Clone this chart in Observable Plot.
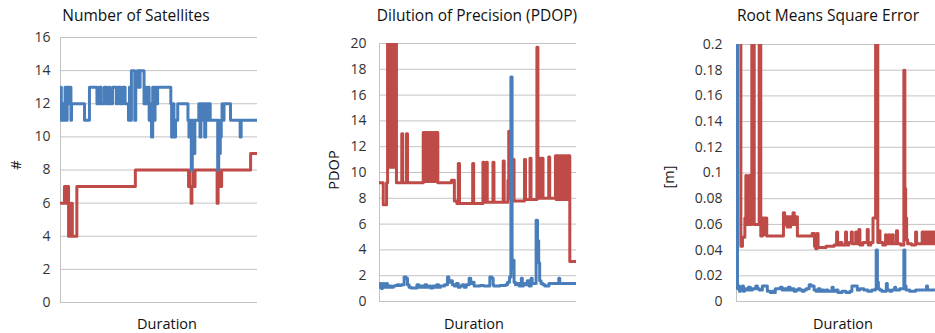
<!DOCTYPE html>
<html>
<head>
<meta charset="utf-8">
<script src="https://cdn.jsdelivr.net/npm/d3@7"></script>
<script src="https://cdn.jsdelivr.net/npm/@observablehq/plot@0.6"></script>
<style>
  html, body { margin: 0; padding: 0; background: #fff; }
  #wrap { position: relative; width: 935px; height: 333px; overflow: hidden; font-family: "Open Sans", sans-serif; }
  .panel { position: absolute; top: 0; }
  .lbl { position: absolute; transform: translate(-50%, -50%); white-space: nowrap; color: #111; }
  .title { font-size: 15.5px; }
  .axis { font-size: 14.5px; }
  .rot { transform: translate(-50%, -50%) rotate(-90deg); }
</style>
</head>
<body>
<div id="wrap"></div>
<script>
// Duration is expressed as percent of the recording (0–100); each pair is [duration, value],
// held until the next change.

// Number of satellites
const satellitesA = [[0,13],[0.4,11],[1.2,12],[1.6,11],[2.3,13],[3,11],[3.4,13],[4.3,12],[4.8,13],[5.3,11],[5.6,12],
  [12.2,11],[14.7,13],[18.5,12],[19.6,13],[20.6,12],[22.2,13],[23.4,12],[24.4,13],[25,12],[26.4,13],[28.3,12],
  [29.2,13],[30.6,12],[31.5,13],[32.8,12],[34.5,11],[35,13],[35.5,11],[36,14],[37.7,11],[38.2,13],[39,14],[40,13],
  [40.4,14],[42.4,12],[43,13],[43.6,12],[44.3,13],[45,11],[45.5,12],[46.2,10],[46.8,13],[47.4,11],[48,13],[48.6,12],
  [49.3,13],[56,12],[56.4,10],[57,12],[57.6,10],[58.4,11],[59.5,12],[64.7,11],[65.2,10],[65.7,11],[66.4,8],[66.9,11],
  [67.6,9],[68.2,11],[70.2,12],[70.8,10],[71.3,12],[72,11],[72.5,12],[73.2,10],[73.7,12],[74.5,11],[75,12],[76,11],
  [79.8,8],[80.3,11],[80.7,9],[81.1,10],[81.6,11],[82,12],[82.5,11],[83,12],[86.3,11],[91.2,10],[91.7,11],[100,11]];
const satellitesB = [[0,6],[2,7],[2.6,6],[3.2,7],[4.1,4],[5.4,6],[6,4],[8.3,7],[38,8],[65,7],[65.4,8],[65.8,7],
  [66.3,6],[66.7,7],[67.5,8],[67.9,7],[68.3,8],[79.5,6],[80,8],[81.3,7],[81.8,8],[96.5,9],[100,9]];

// Dilution of precision (values above 20 leave the chart)
const pdopA = [[0,1.1],[0.5,1.4],[1,1.0],[1.5,1.3],[2,1.4],[2.5,1.1],[3,1.3],[3.5,1.4],[4,1.1],[5,1.2],[6,1.1],
  [7,1.2],[8,1.25],[9,1.3],[10,1.25],[11,1.3],[12.5,1.9],[13.5,1.8],[14.2,1.3],[15,1.1],[16,1.05],[19,1.3],[20,1.1],
  [21,1.2],[22,1.1],[23,1.3],[24,1.1],[25,1.2],[26,1.05],[27,1.2],[28,1.1],[29,1.3],[30,1.1],[31,1.2],[33,1.3],
  [34.5,1.9],[35.2,1.5],[36,1.6],[37,1.3],[38,1.2],[39,1.4],[40,1.1],[41,1.2],[42,1.3],[43,1.1],[44,1.3],[45.5,1.8],
  [46.3,1.4],[47,1.5],[48,1.2],[51,1.25],[53,1.2],[56,1.9],[57,1.8],[57.7,1.3],[58,1.2],[61,1.25],[64,1.3],[65,1.5],
  [66,1.9],[66.7,17.4],[67.3,2.5],[67.8,3.2],[68.3,1.5],[69,1.3],[70,1.4],[71,1.2],[72,1.8],[72.5,1.2],[73,1.4],
  [74,1.3],[75,1.6],[76,1.2],[77,1.8],[77.5,1.4],[79.5,6.3],[80.2,4.7],[80.8,3.0],[81.3,1.6],[82,1.4],[83,1.3],
  [84,1.2],[86,1.4],[91,1.8],[91.5,1.4],[100,1.4]];
const pdopB = [[0,9.2],[1.9,7.5],[3.6,9.2],[4.1,24],[4.6,10.4],[5.2,24],[5.6,10.4],[6.4,24],[6.9,10.4],[7.4,24],
  [8.6,9.2],[11.3,13],[11.8,9.2],[13.7,13],[14.2,9.2],[22.2,13.1],[22.7,9.3],[23.2,13.1],[23.7,9.3],[24.2,13.1],
  [24.7,9.3],[25.2,13.1],[25.7,9.3],[26.2,13.1],[26.7,9.3],[27.2,13.1],[27.7,9.3],[28.2,13.1],[29.6,9.2],[36.5,9.4],
  [38,7.8],[39.3,7.6],[40,10.7],[40.6,7.6],[47.3,10.7],[47.8,7.6],[52.5,10.8],[53,7.7],[54.2,10.8],[54.7,7.7],
  [57.6,10.8],[58.1,7.7],[62.8,10.9],[63.3,7.7],[65.2,9.4],[65.6,13.2],[66,8],[66.4,9.4],[66.8,8],[67.3,7.8],
  [67.8,11],[68.3,7.8],[73.6,11],[74.1,7.9],[76.4,11.1],[76.9,7.9],[79.9,19.7],[80.4,8.0],[80.8,11.1],[81.3,8.0],
  [81.7,11.1],[82.2,8],[82.6,11.1],[83,8],[85.9,11.2],[86.4,8],[89.3,11.3],[89.7,7.9],[90.1,11.3],[90.5,7.9],
  [90.9,11.3],[91.3,7.9],[91.7,11.3],[92.1,7.9],[92.5,11.3],[92.9,7.9],[93.3,11.3],[93.7,7.9],[94.1,11.3],[94.5,7.9],
  [94.9,11.3],[95.3,7.9],[95.7,11.3],[96.6,3.1],[100,3.1]];

// Root mean square error [m] (values above 0.2 leave the chart)
const rmsA = [[0,0.25],[0.5,0.01],[1,0.012],[1.5,0.008],[2,0.011],[2.5,0.009],[3,0.012],[3.5,0.008],[4,0.01],
  [5,0.009],[6,0.011],[7,0.009],[8,0.01],[9.7,0.012],[10.5,0.01],[11.5,0.009],[13,0.012],[15.5,0.008],[17,0.007],
  [18,0.008],[19,0.007],[19.5,0.01],[22,0.011],[23,0.009],[24,0.01],[25,0.009],[26,0.011],[27,0.009],[28,0.01],
  [29,0.008],[30,0.009],[31,0.01],[32,0.009],[33,0.008],[34,0.009],[35,0.01],[36.5,0.013],[37.5,0.012],[39,0.009],
  [40,0.008],[41,0.01],[42,0.008],[43,0.009],[44,0.008],[45,0.009],[46,0.008],[48,0.011],[48.6,0.008],[50,0.009],
  [51,0.007],[53,0.008],[55,0.007],[57,0.008],[58,0.012],[60.7,0.009],[62,0.01],[64,0.009],[66,0.008],[68,0.009],
  [69.8,0.01],[70.2,0.04],[70.8,0.015],[71.3,0.01],[72,0.009],[73,0.008],[75.3,0.014],[75.8,0.009],[77,0.008],
  [78,0.009],[79.5,0.011],[80,0.009],[82,0.01],[84.1,0.04],[84.6,0.012],[85.2,0.009],[87,0.008],[90,0.009],
  [95.5,0.012],[96,0.009],[100,0.009]];
const rmsB = [[1.5,0.25],[2.2,0.043],[3,0.05],[4.2,0.065],[4.7,0.098],[5.2,0.06],[6.4,0.098],[7.2,0.06],[7.7,0.25],
  [8.9,0.06],[11.4,0.25],[12.2,0.051],[13,0.065],[13.5,0.052],[14,0.065],[14.5,0.052],[15,0.065],[15.2,0.051],
  [23.6,0.069],[24.2,0.06],[24.8,0.066],[25.4,0.058],[26,0.066],[26.6,0.058],[27.2,0.066],[27.8,0.06],[28.4,0.069],
  [29,0.06],[29.6,0.066],[30.6,0.051],[38,0.053],[39.2,0.043],[39.8,0.041],[40.4,0.053],[41,0.042],[45,0.043],
  [49,0.044],[50.3,0.054],[50.8,0.044],[52,0.046],[53,0.044],[54.8,0.054],[55.3,0.044],[56.5,0.046],[57.7,0.054],
  [58.2,0.045],[59.9,0.054],[60.4,0.045],[61.5,0.056],[62,0.044],[63.5,0.046],[65.7,0.056],[66.2,0.044],[67.5,0.046],
  [68.6,0.065],[69.9,0.25],[71,0.046],[71.6,0.055],[72.1,0.046],[73.5,0.044],[74.9,0.052],[75.4,0.045],[76.6,0.052],
  [77.1,0.045],[78.3,0.052],[78.8,0.045],[80.4,0.055],[80.9,0.045],[82.5,0.044],[84.1,0.18],[84.6,0.088],[85,0.065],
  [85.5,0.048],[86,0.045],[88,0.044],[90,0.054],[90.5,0.045],[93.3,0.054],[93.8,0.045],[94.3,0.054],[94.8,0.045],
  [95.3,0.054],[95.8,0.045],[96.3,0.054],[96.8,0.045],[97.3,0.054],[97.8,0.045],[98.3,0.054],[98.8,0.045],
  [99.3,0.054],[100,0.054]];

// Axis ticks
const satTicks = [0, 2, 4, 6, 8, 10, 12, 14, 16];
const pdopTicks = [0, 2, 4, 6, 8, 10, 12, 14, 16, 18, 20];
const rmsTicks = [0, 0.02, 0.04, 0.06, 0.08, 0.1, 0.12, 0.14, 0.16, 0.18, 0.2];

// Texts
const titles = ["Number of Satellites", "Dilution of Precision (PDOP)", "Root Means Square Error"];
const yLabels = ["#", "PDOP", "[m]"];
const xLabel = "Duration";

const BLUE = "#4a7ebb", RED = "#be4b48", GRID = "#c3c3c3";

const wrap = document.getElementById("wrap");

function panel(opts) {
  const {left, width, marginLeft, marginRight, marginTop, marginBottom, ticks, fmt, pad, a, b} = opts;
  const toRows = (arr) => arr.map(([t, v]) => ({t, v}));
  const chart = Plot.plot({
    width, height: 333,
    marginLeft, marginRight, marginTop, marginBottom,
    style: {fontFamily: "Open Sans, sans-serif", fontSize: "14px", color: "#333", background: "transparent"},
    x: {domain: [0, 100], axis: null},
    y: {domain: [ticks[0], ticks[ticks.length - 1]], axis: null},
    marks: [
      Plot.gridY(ticks, {stroke: GRID, strokeOpacity: 1, strokeWidth: 1}),
      Plot.ruleX([0], {stroke: GRID, strokeWidth: 1}),
      Plot.axisY(ticks, {tickSize: 0, tickPadding: pad, tickFormat: fmt, label: null, fill: "#333", fontSize: 14}),
      Plot.line(toRows(b), {x: "t", y: "v", curve: "step-after", stroke: RED, strokeWidth: 3, clip: true}),
      Plot.line(toRows(a), {x: "t", y: "v", curve: "step-after", stroke: BLUE, strokeWidth: 3, clip: true})
    ]
  });
  chart.classList.add("panel");
  chart.style.left = left + "px";
  wrap.appendChild(chart);
}

function label(text, x, y, cls) {
  const d = document.createElement("div");
  d.className = "lbl " + cls;
  d.style.left = x + "px";
  d.style.top = y + "px";
  d.textContent = text;
  wrap.appendChild(d);
}

const numFmt = (d) => d === 0 ? "0" : String(+d.toFixed(2));

panel({left: 0, width: 262, marginLeft: 60, marginRight: 5, marginTop: 37, marginBottom: 31,
  ticks: satTicks, fmt: numFmt, pad: 10, a: satellitesA, b: satellitesB});
panel({left: 300, width: 280, marginLeft: 79, marginRight: 4, marginTop: 43, marginBottom: 32,
  ticks: pdopTicks, fmt: numFmt, pad: 13, a: pdopA, b: pdopB});
panel({left: 640, width: 295, marginLeft: 96, marginRight: 0, marginTop: 44, marginBottom: 32,
  ticks: rmsTicks, fmt: numFmt, pad: 14, a: rmsA, b: rmsB});

label(titles[0], 136, 15, "title");
label(titles[1], 477, 15, "title");
label(titles[2], 828, 15, "title");
label(yLabels[0], 15, 165, "axis rot");
label(yLabels[1], 333, 170, "axis rot");
label(yLabels[2], 668, 177, "axis rot");
label(xLabel, 167, 323, "axis");
label(xLabel, 474, 323, "axis");
label(xLabel, 843, 323, "axis");
</script>
</body>
</html>
